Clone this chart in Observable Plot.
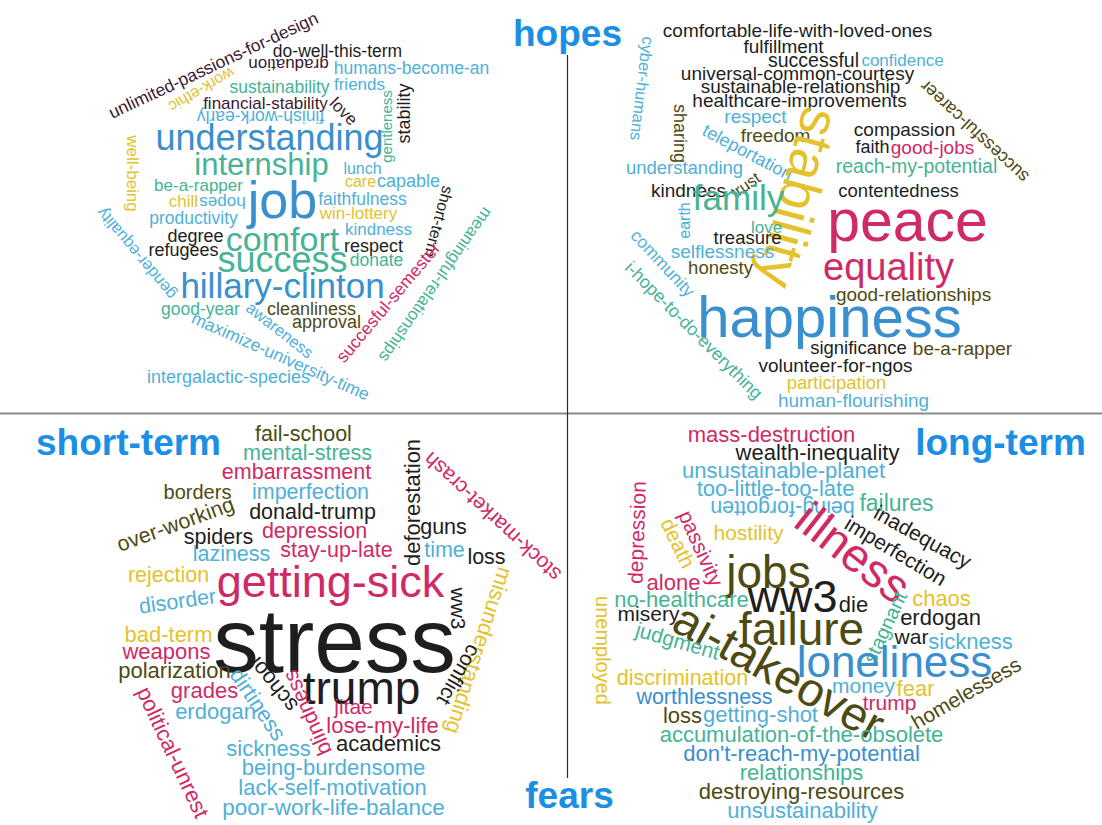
<!DOCTYPE html>
<html><head><meta charset="utf-8">
<script src="https://cdn.jsdelivr.net/npm/d3@7"></script>
<script src="https://cdn.jsdelivr.net/npm/@observablehq/plot@0.6"></script>
<style>html,body{margin:0;padding:0;background:#fff;} svg{display:block}</style>
</head><body><div id="chart"></div>
<script>
// tone palette
const toneNames  = ["blue","lightblue","teal","magenta","yellow","olive","black","dark","title"];
const toneColors = ["#3a8fce","#4fb0d8","#46b396","#cf2a66","#e3c22c","#4d4a13","#1e1e1e","#3b1a33","#1a8fe3"];

// [word, layoutX, layoutY, weight(font px), angle, tone]
const hopesShortTerm = [
  ["unlimited-passions-for-design",213,65,17.5,-25,"dark"],
  ["do-well-this-term",337,51,17.5,0,"black"],
  ["graduation",288,64,17,180,"dark"],
  ["humans-become-an",411,68,17.5,0,"lightblue"],
  ["work-ethic",201,89,16,150,"yellow"],
  ["sustainability",279,87,17.5,0,"teal"],
  ["friends",359,84,17,0,"lightblue"],
  ["financial-stability",265,103,17,0,"dark"],
  ["love",343,111,17,45,"dark"],
  ["finish-work-early",260,116,17.5,180,"lightblue"],
  ["gentleness",387,126,15,-90,"teal"],
  ["stability",404,113,18,-90,"black"],
  ["understanding",269,138,36,0,"blue"],
  ["internship",261,165,31,0,"teal"],
  ["lunch",362,168,16,0,"lightblue"],
  ["care",360,181,16,0,"yellow"],
  ["capable",408,181,18,0,"lightblue"],
  ["well-being",132,173,17,90,"yellow"],
  ["be-a-rapper",198,185,17,0,"teal"],
  ["chill",183,201,17,0,"yellow"],
  ["hopes",222,202,17,180,"lightblue"],
  ["job",282,201,52,0,"blue"],
  ["faithfulness",362,199,17.5,0,"lightblue"],
  ["win-lottery",358,213,17,0,"yellow"],
  ["short-term",438,221,16,105,"black"],
  ["productivity",193,218,17.5,0,"lightblue"],
  ["kindness",378,229,17,0,"lightblue"],
  ["degree",195,236,18,0,"black"],
  ["comfort",282,240,34,0,"teal"],
  ["respect",373,246,18,0,"black"],
  ["refugees",183,250,18,0,"black"],
  ["success",282,260,36,0,"teal"],
  ["donate",376,260,17.5,0,"teal"],
  ["hillary-clinton",282,286,35,0,"blue"],
  ["gender-equality",136,253,16.5,-130,"lightblue"],
  ["good-year",200,309,17.5,0,"teal"],
  ["awareness",279,330,16.5,38,"lightblue"],
  ["cleanliness",311,309,18,0,"olive"],
  ["approval",326,322,18,0,"olive"],
  ["succesful-semester",388,302,17.5,-50,"magenta"],
  ["meaningful-relationships",435,284,17,125,"teal"],
  ["maximize-university-time",280,356,17.5,24,"lightblue"],
  ["intergalactic-species",228,377,18,0,"lightblue"]
];

const hopesLongTerm = [
  ["comfortable-life-with-loved-ones",797,30,19,0,"black"],
  ["fulfillment",783,46,19,0,"black"],
  ["successful",813,60,19.5,0,"black"],
  ["confidence",902,60,17,0,"lightblue"],
  ["universal-common-courtesy",797,73,19,0,"black"],
  ["sustainable-relationship",800,86,19,0,"black"],
  ["healthcare-improvements",799,100,19,0,"black"],
  ["successful-career",974,131,18,-137,"olive"],
  ["cyber-humans",641,88,16.5,97,"lightblue"],
  ["sharing",679,133,18,90,"olive"],
  ["respect",755,116,19,0,"lightblue"],
  ["teleportation",747,152,18,28,"lightblue"],
  ["freedom",775,135,19,0,"olive"],
  ["understanding",684,168,18.5,0,"lightblue"],
  ["kindness",688,190,19,0,"black"],
  ["trust",745,185,16.5,-35,"olive"],
  ["compassion",904,129,19,0,"black"],
  ["faith",872,147,18,0,"black"],
  ["good-jobs",932,147,19,0,"magenta"],
  ["reach-my-potential",916,166,19.5,0,"teal"],
  ["contentedness",898,191,18.5,0,"black"],
  ["stability",797,197,55,105,"yellow"],
  ["family",738,198,35,0,"teal"],
  ["earth",684,220,16,-90,"lightblue"],
  ["love",766,227,17,0,"teal"],
  ["treasure",747,238,18.5,0,"black"],
  ["selflessness",722,251,19,0,"lightblue"],
  ["honesty",720,268,18.5,0,"olive"],
  ["community",662,263,17.5,47,"lightblue"],
  ["i-hope-to-do-everything",693,330,18,45,"teal"],
  ["peace",907,222,59,0,"magenta"],
  ["equality",888,267,38,0,"magenta"],
  ["good-relationships",913,294,19,0,"olive"],
  ["happiness",829,318,58,0,"blue"],
  ["significance",858,348,18.5,0,"black"],
  ["be-a-rapper",962,348,19,0,"olive"],
  ["volunteer-for-ngos",835,365,19,0,"black"],
  ["participation",836,383,18.5,0,"yellow"],
  ["human-flourishing",853,400,19,0,"lightblue"]
];

const fearsShortTerm = [
  ["fail-school",303,434,21.5,0,"olive"],
  ["mental-stress",307,453,21.5,0,"teal"],
  ["embarrassment",296,472,21.5,0,"magenta"],
  ["borders",197,492,20,0,"olive"],
  ["imperfection",310,492,21.5,0,"lightblue"],
  ["over-working",175,524,21.5,-20,"olive"],
  ["donald-trump",312,512,21.5,0,"black"],
  ["depression",314,531,21.5,0,"magenta"],
  ["spiders",218,537,21.5,0,"black"],
  ["stay-up-late",336,550,21.5,0,"magenta"],
  ["laziness",231,554,21.5,0,"lightblue"],
  ["time",444,550,21.5,0,"lightblue"],
  ["guns",443,527,21.5,0,"black"],
  ["loss",486,557,21.5,0,"black"],
  ["deforestation",412,502,22,-90,"black"],
  ["stock-market-crash",492,516,21,-137,"magenta"],
  ["getting-sick",330,582,45,0,"magenta"],
  ["rejection",168,575,21.5,0,"yellow"],
  ["disorder",177,601,21.5,-8,"lightblue"],
  ["ww3",457,608,21,90,"black"],
  ["misunderstanding",478,650,22,108,"yellow"],
  ["stress",334,642,91,0,"black"],
  ["trump",361,689,46,0,"black"],
  ["conflict",458,674,21,120,"black"],
  ["school",273,684,22,-129,"black"],
  ["dirtiness",257,704,22,56,"lightblue"],
  ["blindness",307,712,21.5,-114,"magenta"],
  ["jitae",353,707,21,0,"magenta"],
  ["lose-my-life",382,725,22,0,"magenta"],
  ["academics",388,743,22,0,"black"],
  ["bad-term",168,634,22,0,"yellow"],
  ["weapons",166,651,22,0,"magenta"],
  ["polarization",174,670,22,0,"olive"],
  ["grades",204,690,22,0,"magenta"],
  ["erdogan",215,711,22,0,"lightblue"],
  ["political-unrest",172,752,22,65,"magenta"],
  ["sickness",268,748,22,0,"lightblue"],
  ["being-burdensome",333,767,22,0,"lightblue"],
  ["lack-self-motivation",332,787,22,0,"lightblue"],
  ["poor-work-life-balance",333,807,22.5,0,"lightblue"]
];

const fearsLongTerm = [
  ["mass-destruction",771,434,22,0,"magenta"],
  ["wealth-inequality",817,452,22,0,"black"],
  ["unsustainable-planet",783,470,22,0,"lightblue"],
  ["too-little-too-late",775,488,22,0,"lightblue"],
  ["being-forgotten",782,507,21.5,180,"lightblue"],
  ["failures",896,503,23,0,"teal"],
  ["illness",852,553,47,38,"magenta"],
  ["hostility",748,533,21,0,"yellow"],
  ["imperfection",895,551,21,31,"black"],
  ["inadequacy",922,537,21,29,"black"],
  ["depression",637,532,21,-88,"magenta"],
  ["death",677,543,21,64,"yellow"],
  ["passivity",700,548,21,66,"magenta"],
  ["jobs",768,573,46,0,"olive"],
  ["alone",673,582,22,0,"magenta"],
  ["ww3",792,597,45,0,"black"],
  ["no-healthcare",681,599,22,0,"teal"],
  ["unemployed",602,650,20,90,"yellow"],
  ["misery",648,614,21,0,"black"],
  ["die",853,604,22,0,"black"],
  ["failure",801,630,46,0,"olive"],
  ["ai-takeover",778,672,47,29,"olive"],
  ["stagnant",885,627,20,-65,"teal"],
  ["chaos",941,598,22,0,"yellow"],
  ["erdogan",940,617,22,0,"black"],
  ["war",911,637,21,0,"black"],
  ["sickness",970,641,22,0,"lightblue"],
  ["judgment",677,641,21,16,"teal"],
  ["loneliness",894,662,44,0,"blue"],
  ["money",863,686,21,0,"lightblue"],
  ["fear",915,688,22,0,"yellow"],
  ["trump",889,703,21,0,"magenta"],
  ["homelessess",966,693,21,-30,"olive"],
  ["discrimination",682,678,21.5,0,"yellow"],
  ["worthlessness",704,697,21.5,0,"blue"],
  ["loss",682,715,22,0,"olive"],
  ["getting-shot",760,714,22,0,"lightblue"],
  ["accumulation-of-the-obsolete",801,734,22,0,"teal"],
  ["don't-reach-my-potential",801,753,22,0,"blue"],
  ["relationships",801,772,22,0,"teal"],
  ["destroying-resources",801,791,22,0,"olive"],
  ["unsustainability",802,810,22,0,"lightblue"]
];

// quadrant labels [text, layoutX, layoutY]
const quadrantLabels = [
  ["hopes",567,34],
  ["short-term",128,443],
  ["long-term",1000,443],
  ["fears",569,796]
];

// dividers
const horizontalDivider = [{y: 413, x1: 0, x2: 1102}];
const verticalDivider = [{x: 567, y1: 55, y2: 778}];

const toRows = (arr, quadrant) => arr.map(([word, x, y, size, angle, tone]) => ({word, x, y, size, angle, tone, quadrant}));
const cloud = [
  ...toRows(hopesShortTerm, "hopes/short"),
  ...toRows(hopesLongTerm, "hopes/long"),
  ...toRows(fearsShortTerm, "fears/short"),
  ...toRows(fearsLongTerm, "fears/long")
];
const labels = quadrantLabels.map(([word, x, y]) => ({word, x, y, tone: "title"}));

const font = "'Liberation Sans', Arial, Helvetica, sans-serif";

const chart = Plot.plot({
  width: 1102,
  height: 825,
  margin: 0,
  x: {domain: [0, 1102], axis: null},
  y: {domain: [0, 825], reverse: true, axis: null},
  color: {type: "ordinal", domain: toneNames, range: toneColors},
  style: {background: "#ffffff", fontFamily: font},
  marks: [
    Plot.ruleY(horizontalDivider, {y: "y", x1: "x1", x2: "x2", stroke: "#8a8a8a", strokeWidth: 2.2}),
    Plot.ruleX(verticalDivider, {x: "x", y1: "y1", y2: "y2", stroke: "#2a2a2a", strokeWidth: 1.2}),
    Plot.text(cloud, {
      x: "x", y: "y", text: "word",
      fontSize: d => d.size,
      rotate: d => d.angle,
      fill: "tone",
      fontFamily: font,
      textAnchor: "middle",
      lineAnchor: "middle"
    }),
    Plot.text(labels, {
      x: "x", y: "y", text: "word",
      fontSize: 37, fontWeight: "bold",
      fill: "tone", fontFamily: font,
      textAnchor: "middle", lineAnchor: "middle"
    })
  ]
});
document.getElementById("chart").appendChild(chart);
</script>
</body></html>
